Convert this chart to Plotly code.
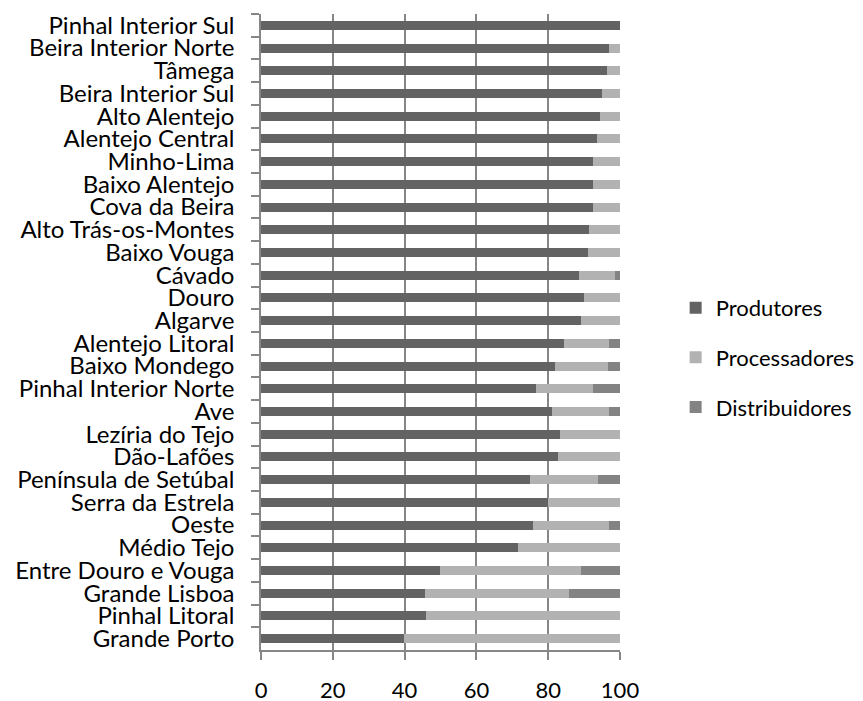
import plotly.graph_objects as go

# Regiões (NUTS III), de cima para baixo
regioes = [
    "Pinhal Interior Sul", "Beira Interior Norte", "Tâmega", "Beira Interior Sul",
    "Alto Alentejo", "Alentejo Central", "Minho-Lima", "Baixo Alentejo",
    "Cova da Beira", "Alto Trás-os-Montes", "Baixo Vouga", "Cávado", "Douro",
    "Algarve", "Alentejo Litoral", "Baixo Mondego", "Pinhal Interior Norte", "Ave",
    "Lezíria do Tejo", "Dão-Lafões", "Península de Setúbal", "Serra da Estrela",
    "Oeste", "Médio Tejo", "Entre Douro e Vouga", "Grande Lisboa",
    "Pinhal Litoral", "Grande Porto",
]

# Percentagens por tipo de agente
produtores = [
    100.0, 97.0, 96.4, 95.1, 94.5, 93.6, 92.6, 92.5, 92.5, 91.3, 91.1, 88.6, 90.1,
    89.1, 84.3, 82.0, 76.7, 81.1, 83.3, 82.6, 74.9, 79.9, 75.7, 71.7, 49.9, 45.6,
    45.9, 39.9,
]
processadores = [
    0.0, 3.0, 3.6, 4.9, 5.5, 6.4, 7.4, 7.5, 7.5, 8.7, 8.9, 10.0, 9.9,
    10.9, 12.7, 14.7, 15.9, 15.9, 16.7, 17.4, 19.1, 20.1, 21.3, 28.3, 39.1, 40.2,
    54.1, 60.1,
]
distribuidores = [
    0.0, 0.0, 0.0, 0.0, 0.0, 0.0, 0.0, 0.0, 0.0, 0.0, 0.0, 1.4, 0.0,
    0.0, 3.0, 3.3, 7.4, 3.0, 0.0, 0.0, 6.0, 0.0, 3.0, 0.0, 11.0, 14.2,
    0.0, 0.0,
]

series = [
    ("Produtores", produtores, "#636363"),
    ("Processadores", processadores, "#b2b2b2"),
    ("Distribuidores", distribuidores, "#838383"),
]

FONT = "Lato"
SIZE = 24
AXIS = "#868686"

fig = go.Figure()
for nome, valores, cor in series:
    fig.add_trace(go.Bar(
        y=regioes, x=valores, name=nome, orientation="h",
        marker=dict(color=cor, line=dict(width=0)),
        legendgroup=nome,
    ))

fig.update_layout(
    width=863, height=701,
    margin=dict(l=261, r=243, t=14, b=51, pad=0, autoexpand=False),
    paper_bgcolor="white", plot_bgcolor="white",
    barmode="stack", bargap=0.6,
    font=dict(family=FONT, size=SIZE, color="black"),
    legend=dict(
        x=1.155, xanchor="left", y=0.46, yanchor="middle",
        traceorder="grouped", tracegroupgap=18,
        font=dict(family=FONT, size=SIZE - 2, color="black"),
        bgcolor="rgba(0,0,0,0)",
    ),
    xaxis=dict(
        range=[0, 100], dtick=20, tick0=0,
        showgrid=True, gridcolor=AXIS, gridwidth=1.5,
        showline=True, linecolor=AXIS, linewidth=1.5,
        ticks="outside", ticklen=8, tickcolor=AXIS, tickwidth=1.5,
        zeroline=False, ticklabelstandoff=12,
        tickfont=dict(family=FONT, size=SIZE - 2, color="black"),
    ),
    yaxis=dict(
        categoryorder="array", categoryarray=regioes, autorange="reversed",
        tickmode="linear", tick0=0, dtick=1,
        showline=True, linecolor=AXIS, linewidth=1.5,
        ticks="outside", ticklen=8, tickcolor=AXIS, tickwidth=1.5,
        tickson="boundaries", showgrid=False, zeroline=False,
        ticklabelstandoff=20,
        tickfont=dict(family=FONT, size=SIZE, color="black"),
    ),
)

fig.write_html("out.html")
